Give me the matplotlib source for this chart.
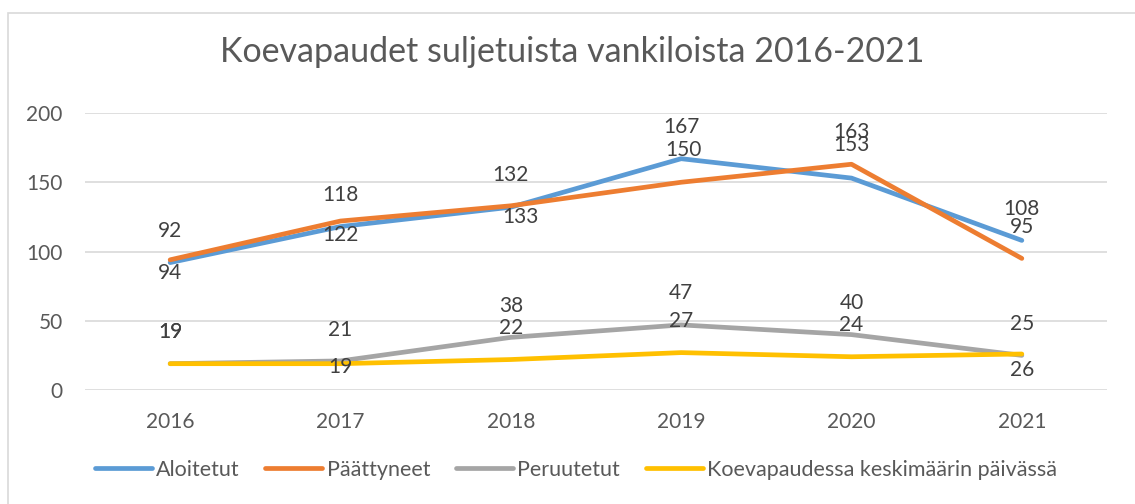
import matplotlib.pyplot as plt
from matplotlib.patches import Rectangle

# Chart data
years = ['2016', '2017', '2018', '2019', '2020', '2021']
aloitetut = [92, 118, 132, 167, 153, 108]
paattyneet = [94, 122, 133, 150, 163, 95]
peruutetut = [19, 21, 38, 47, 40, 25]
keskimaarin = [19, 19, 22, 27, 24, 26]

series_names = ['Aloitetut', 'Päättyneet', 'Peruutetut',
                'Koevapaudessa keskimäärin päivässä']
colors = ['#5B9BD5', '#ED7D31', '#A5A5A5', '#FFC000']

# vertical label offsets in pixels (negative = above the point)
label_dy = [
    [-32, -32, -32, -32, -33, -31],
    [13, 14, 11, -32, -32, -31],
    [-32, -31, -31, -32, -32, -31],
    [-32, 3, -32, -32, -32, 16],
]
label_dx = [
    [0, 0, 0, 0, 0, 0],
    [0, 0, 10, 2, 0, 0],
    [0, 0, 0, 0, 0, 0],
    [0, 0, 0, 0, 0, 0],
]

plt.rcParams['font.family'] = ['Lato', 'DejaVu Sans']

W, H = 1135, 504
fig = plt.figure(figsize=(W / 100, H / 100), dpi=100)
ax = fig.add_axes([85 / W, 1 - 390 / H, 1022 / W, 277 / H])

x = list(range(len(years)))
all_series = [aloitetut, paattyneet, peruutetut, keskimaarin]
px = 72 / 100  # pixels -> points

for vals, name, col, dys, dxs in zip(all_series, series_names, colors, label_dy, label_dx):
    ax.plot(x, vals, color=col, lw=3.4, label=name, solid_capstyle='round',
            solid_joinstyle='round')
    for xi, v, dy, dx in zip(x, vals, dys, dxs):
        ax.annotate(str(v), (xi, v), xytext=(dx * px, -dy * px),
                    textcoords='offset points', ha='center', va='center',
                    fontsize=15, color='#404040')

ax.set_xlim(-0.5, len(years) - 0.5)
ax.set_ylim(0, 200)
ax.set_yticks([0, 50, 100, 150, 200])
ax.set_xticks(x)
ax.set_xticklabels(years)
ax.grid(axis='y', color='#D9D9D9', lw=1.2)
ax.set_axisbelow(True)
for s in ax.spines.values():
    s.set_visible(False)
ax.tick_params(axis='both', length=0, labelsize=15, labelcolor='#595959')
ax.tick_params(axis='y', pad=16)
ax.tick_params(axis='x', pad=16)

fig.text(572 / W, 1 - 52 / H, 'Koevapaudet suljetuista vankiloista 2016-2021',
         ha='center', va='center', fontsize=24.5, color='#595959')

fig.legend(loc='center', bbox_to_anchor=(576 / W, 1 - 470 / H), ncol=4,
           frameon=False, fontsize=15.5, handlelength=2.65, handletextpad=0.2,
           columnspacing=1.2, labelcolor='#595959')

# light outer frame of the chart
fig.patches.append(Rectangle((8 / W, -0.1), 1.2, 1.1 - 13 / H,
                             transform=fig.transFigure, fill=False,
                             edgecolor='#D9D9D9', lw=1.2))

fig.savefig('out.png', dpi=100)
